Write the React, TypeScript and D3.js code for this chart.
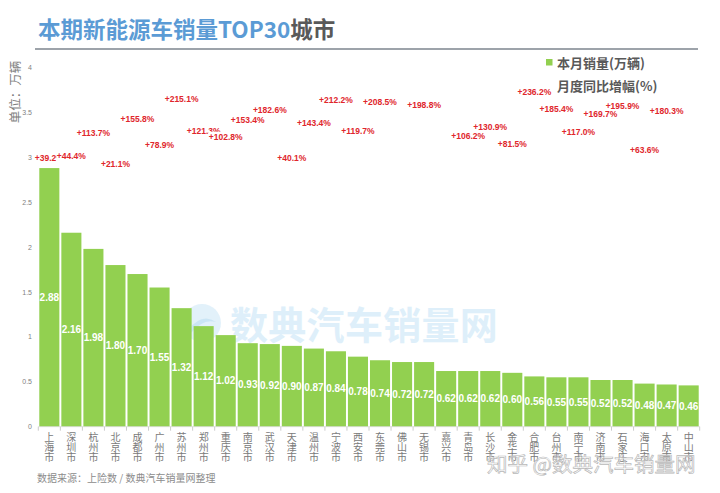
import React from "react";
import * as d3 from "d3";

const cities = ["上海市","深圳市","杭州市","北京市","成都市","广州市","苏州市","郑州市","重庆市","南京市","武汉市","天津市","温州市","宁波市","西安市","东莞市","佛山市","无锡市","嘉兴市","青岛市","长沙市","金华市","合肥市","台州市","南宁市","济南市","石家庄","海口市","太原市","中山市"];
const sales = [2.88,2.16,1.98,1.80,1.70,1.55,1.32,1.12,1.02,0.93,0.92,0.90,0.87,0.84,0.78,0.74,0.72,0.72,0.62,0.62,0.62,0.60,0.56,0.55,0.55,0.52,0.52,0.48,0.47,0.46];
const growth: (number | null)[] = [39.2,44.4,113.7,21.1,155.8,78.9,215.1,121.3,102.8,153.4,182.6,40.1,143.4,212.2,119.7,208.5,null,198.8,null,106.2,130.9,81.5,236.2,185.4,117.0,169.7,195.9,63.6,180.3,null];
const yTicks = [0,0.5,1,1.5,2,2.5,3,3.5,4];

const W = 720, H = 493;
const latin = "'Liberation Sans', Arial, sans-serif";
const cjk = "'Noto Sans CJK SC', 'Noto Sans', sans-serif";

export default function App() {
  const x = d3.scaleBand<string>().domain(cities).range([38.3, 699.7]).paddingInner(0.09).paddingOuter(0.045);
  const y = d3.scaleLinear().domain([0, 4]).range([426.7, 67.5]);
  const yp = d3.scaleLinear().domain([0, 240]).range([171, 91]);
  const step = x.step();
  const x0 = x.range()[0];
  const grey = "#7f7f7f";

  return (
    <svg width={W} height={H} style={{ position: "fixed", left: 0, top: 0, background: "#fff" }}>
      <rect width={W} height={H} fill="#fff" />
      {/* title */}
      <text x={38} y={28} dominantBaseline="central" fontFamily={cjk} fontWeight="bold" fontSize={22.5}>
        <tspan fill="#5b9bd5">本期新能源车销量TOP30</tspan>
        <tspan fill="#595959">城市</tspan>
      </text>
      <line x1={35} x2={698} y1={49} y2={49} stroke="#7d858e" strokeWidth={1.5} />

      {/* legend */}
      <rect x={546} y={59} width={6.5} height={6.5} fill="#92d050" />
      <text x={557} y={62.5} dominantBaseline="central" fontFamily={cjk} fontWeight="bold" fontSize={13} fill="#595959">本月销量(万辆)</text>
      <text x={557} y={85} dominantBaseline="central" fontFamily={cjk} fontWeight="bold" fontSize={13} fill="#595959">月度同比增幅(%)</text>

      {/* y axis title */}
      <text transform="translate(14,92) rotate(-90)" textAnchor="middle" dominantBaseline="central" fontFamily={cjk} fontSize={12.5} fill={grey}>单位：万辆</text>

      {/* y ticks */}
      {yTicks.map((t) => (
        <text key={t} x={32} y={y(t)} textAnchor="end" dominantBaseline="central" fontFamily={latin} fontSize={7} fill={grey}>{String(t)}</text>
      ))}

      {/* watermark */}
      <circle cx={202} cy={323} r={19} fill="#d8ecf8" opacity={0.75} />
      <path d="M188,330 Q202,312 216,322 Q203,318 190,334 Z" fill="#c4e2f4" opacity={0.8} />
      <text x={230} y={322} dominantBaseline="central" fontFamily={cjk} fontWeight="bold" fontSize={38} fill="#deeffa" letterSpacing={0.3}>数典汽车销量网</text>

      {/* bars */}
      {cities.map((c, i) => (
        <rect key={c} x={x(c)} y={y(sales[i])} width={x.bandwidth()} height={y(0) - y(sales[i])} fill="#92d050" />
      ))}
      {cities.map((c, i) => (
        <text key={c + "v"} x={(x(c) as number) + x.bandwidth() / 2} y={(y(sales[i]) + y(0)) / 2} textAnchor="middle" dominantBaseline="central" fontFamily={latin} fontWeight="bold" fontSize={10} fill="#fff">{sales[i].toFixed(2)}</text>
      ))}

      {/* axis */}
      <line x1={x0} x2={x.range()[1]} y1={y(0)} y2={y(0)} stroke="#d9d9d9" strokeWidth={0.8} />
      {d3.range(cities.length + 1).map((i) => (
        <line key={i} x1={x0 + i * step} x2={x0 + i * step} y1={y(0)} y2={y(0) + 4} stroke="#bfbfbf" strokeWidth={0.8} />
      ))}
      {cities.map((c) => (
        <g key={c + "l"}>
          {Array.from(c).map((ch, k) => (
            <text key={k} x={(x(c) as number) + x.bandwidth() / 2} y={436.7 + k * 9.7} textAnchor="middle" dominantBaseline="central" fontFamily={cjk} fontSize={10} fill="#7a7a7a">{ch}</text>
          ))}
        </g>
      ))}

      {/* growth labels */}
      {cities.map((c, i) => {
        const g = growth[i];
        if (g === null) return null;
        const cx = (x(c) as number) + x.bandwidth() / 2;
        const s = "+" + g.toFixed(1) + "%";
        const w = s.length * 4.7;
        return (
          <g key={c + "g"}>
            <rect x={cx - w / 2 - 1} y={yp(g) - 5} width={w + 2} height={10} fill="#fff" />
            <text x={cx} y={yp(g)} textAnchor="middle" dominantBaseline="central" fontFamily={latin} fontWeight="bold" fontSize={8.5} fill="#e0262c">{s}</text>
          </g>
        );
      })}

      {/* source */}
      <text x={37} y={477.7} dominantBaseline="central" fontFamily={cjk} fontSize={10} fill="#8c8c8c">数据来源：上险数 / 数典汽车销量网整理</text>

      {/* zhihu watermark */}
      <text x={487} y={463} dominantBaseline="central" fontFamily={cjk} fontSize={20.5} fill="rgba(255,255,255,0.55)" stroke="#b8b8b8" strokeWidth={0.7}>知乎 @数典汽车销量网</text>
    </svg>
  );
}
